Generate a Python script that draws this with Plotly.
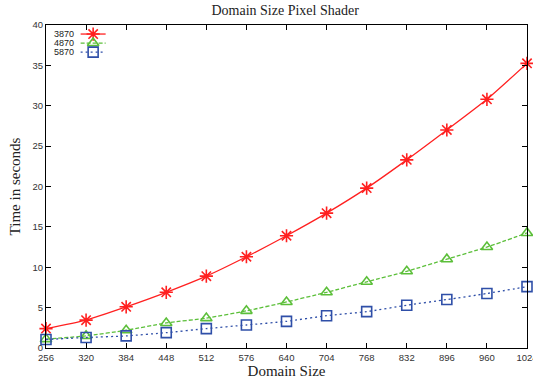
import plotly.graph_objects as go

domain = [256, 320, 384, 448, 512, 576, 640, 704, 768, 832, 896, 960, 1024]
t3870 = [2.4, 3.45, 5.1, 6.9, 8.9, 11.3, 13.9, 16.7, 19.8, 23.3, 27.0, 30.8, 35.25]
t4870 = [1.1, 1.5, 2.2, 3.1, 3.7, 4.6, 5.7, 6.9, 8.2, 9.5, 11.0, 12.5, 14.25]
t5870 = [1.05, 1.3, 1.5, 1.9, 2.4, 2.85, 3.3, 4.0, 4.5, 5.3, 6.0, 6.75, 7.6]
names = ["3870", "4870", "5870"]
series = [t3870, t4870, t5870]
colors = ["#ff2020", "#5cbf3a", "#2f4fa8"]
dashes = ["solid", "4px,2px", "2px,3px"]
symbols = ["asterisk-open", "triangle-up-open", "square-open"]
sizes = [11, 10, 10]

fig = go.Figure()
for n, s, c, d, sym, sz in zip(names, series, colors, dashes, symbols, sizes):
    fig.add_trace(go.Scatter(x=domain, y=s, name=n, mode="lines+markers",
                             line=dict(color=c, width=1.3, dash=d, shape="spline", smoothing=0.6),
                             marker=dict(symbol=sym, size=sz, color=c, line=dict(width=1.6, color=c)),
                             showlegend=False, cliponaxis=False))

# manual legend (text left of sample), gnuplot style
leg_y = [0.972, 0.944, 0.916]
for n, c, d, sym, sz, ly in zip(names, colors, dashes, symbols, sizes, leg_y):
    fig.add_trace(go.Scatter(x=[0.072, 0.124], y=[ly, ly], xaxis="x2", yaxis="y2", mode="lines",
                             line=dict(color=c, width=1.3, dash=d), showlegend=False, hoverinfo="skip"))
    fig.add_trace(go.Scatter(x=[0.098], y=[ly], xaxis="x2", yaxis="y2", mode="markers",
                             marker=dict(symbol=sym, size=sz, color=c, line=dict(width=1.6, color=c)),
                             showlegend=False, hoverinfo="skip"))
    fig.add_annotation(x=0.062, y=ly, xref="x2", yref="y2", text=n, showarrow=False,
                       xanchor="right", yanchor="middle",
                       font=dict(family="Liberation Sans", size=9, color="#222"))

axis_common = dict(showgrid=False, zeroline=False, showline=True, linecolor="black", linewidth=1.2,
                   mirror="allticks", ticks="inside", ticklen=5, tickcolor="black", tickwidth=1,
                   automargin=False, ticklabeloverflow="allow",
                   tickfont=dict(family="Liberation Sans", size=9.5, color="#333"))

fig.update_layout(
    width=533, height=383,
    margin=dict(l=46, r=6, t=25, b=35),
    paper_bgcolor="white", plot_bgcolor="white",
    title=dict(text="Domain Size Pixel Shader", x=0.535, xanchor="center", y=0.973, yanchor="middle",
               font=dict(family="Liberation Serif", size=14, color="#222")),
    xaxis=dict(range=[256, 1024], tickvals=domain, ticktext=[str(v) for v in domain],
               title=dict(text="Domain Size", standoff=0,
                          font=dict(family="Liberation Serif", size=15, color="#222")),
               **axis_common),
    yaxis=dict(range=[0, 40], tickvals=list(range(0, 41, 5)),
               title=dict(text="Time in seconds", standoff=8,
                          font=dict(family="Liberation Serif", size=15, color="#222")),
               **axis_common),
    xaxis2=dict(overlaying="x", range=[0, 1], visible=False, fixedrange=True),
    yaxis2=dict(overlaying="y", range=[0, 1], visible=False, fixedrange=True),
)

fig.write_html("out.html", config={"displayModeBar": False},
               post_script="document.body.style.margin='0';document.body.style.padding='0';")
